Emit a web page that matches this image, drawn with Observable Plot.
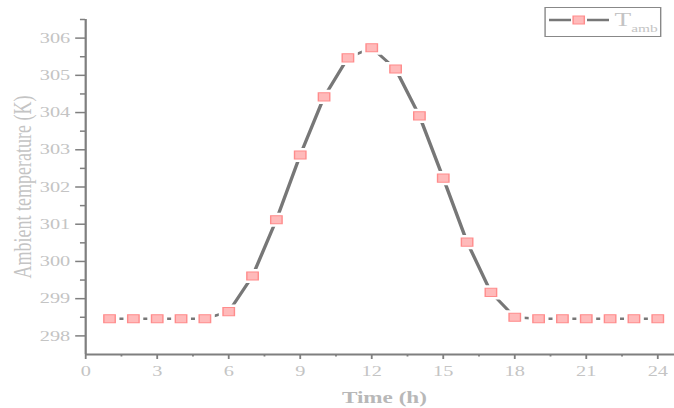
<!DOCTYPE html>
<html><head><meta charset="utf-8">
<script src="https://cdn.jsdelivr.net/npm/d3@7"></script>
<script src="https://cdn.jsdelivr.net/npm/@observablehq/plot@0.6"></script>
<style>body{margin:0;background:#fff}#chart{position:relative;width:674px;height:408px}</style>
</head><body><div id="chart"></div>
<script>
// Data
const hours = [1,2,3,4,5,6,7,8,9,10,11,12,13,14,15,16,17,18,19,20,21,22,23,24];
const tAmb = [298.46,298.46,298.46,298.46,298.46,298.65,299.61,301.12,302.86,304.42,305.47,305.74,305.17,303.91,302.24,300.52,299.17,298.50,298.46,298.46,298.46,298.46,298.46,298.46];
const xTicks = [0,3,6,9,12,15,18,21,24];
const xMinor = [1.5,4.5,7.5,10.5,13.5,16.5,19.5,22.5];
const yTicks = [298,299,300,301,302,303,304,305,306];
const yMinor = [298.5,299.5,300.5,301.5,302.5,303.5,304.5,305.5,306.5];
const xLabel = "Time (h)";
const yLabel = "Ambient temperature (K)";
const seriesName = "T";
const seriesSub = "amb";

const table = hours.map((h, i) => ({h, t: tAmb[i]}));

// The reference picture is horizontally stretched; draw at narrower width and stretch.
const W = 481, H = 408;
const axisGray = "#7f7f7f", textGray = "#c4c4c4";

const plot = Plot.plot({
  width: W, height: H,
  marginLeft: 60.66, marginRight: 0, marginTop: 19, marginBottom: 54,
  style: {fontFamily: "'Liberation Serif', serif", background: "white"},
  x: {domain: [0, 24.71], label: null},
  y: {domain: [297.5, 306.5], label: null},
  marks: [
    Plot.axisY(yTicks, {tickSize: 7, tickPadding: 4, stroke: axisGray, strokeWidth: 1.5, fill: textGray, fontSize: 14.5, label: null}),
    Plot.axisY(yMinor, {tickSize: 3.6, stroke: axisGray, strokeWidth: 1.5, tickFormat: () => "", label: null}),
    Plot.axisX(xTicks, {tickSize: 5, tickPadding: 6.5, stroke: axisGray, strokeWidth: 1.3, fill: textGray, fontSize: 14.5, label: null}),
    Plot.axisX(xMinor, {tickSize: 2.5, stroke: axisGray, strokeWidth: 1.3, tickFormat: () => "", label: null}),
    Plot.ruleX([0], {stroke: axisGray, strokeWidth: 1.6}),
    Plot.ruleY([297.5], {stroke: axisGray, strokeWidth: 2}),
    Plot.text([yLabel], {frameAnchor: "left", textAnchor: "middle", rotate: -90, dx: -45, fontSize: 18, fill: textGray}),
    Plot.text([xLabel], {frameAnchor: "bottom", dx: 3, dy: 48, fontSize: 16.5, fontWeight: "bold", fill: "#b8b8b8"}),
    Plot.line(table, {x: "h", y: "t", stroke: "#777777", strokeWidth: 2.5}),
    Plot.dot(table, {x: "h", y: "t", symbol: "square", r: 4.6, fill: "white", stroke: "white", strokeWidth: 6}),
    Plot.dot(table, {x: "h", y: "t", symbol: "square", r: 4.6, fill: "#ffbaba", stroke: "#ff8c8c", strokeWidth: 1})
  ]
});

plot.setAttribute("width", 674);
plot.setAttribute("preserveAspectRatio", "none");
plot.style.height = "408px";
plot.style.maxWidth = "none";
plot.style.width = "674px";

// Legend (unstretched coordinates)
const svg = d3.select(plot);
const lg = svg.append("g");
lg.append("rect").attr("x", 389).attr("y", 7.5).attr("width", 82.5).attr("height", 29)
  .attr("fill", "white").attr("stroke", "#888").attr("stroke-width", 1);
lg.append("line").attr("x1", 391.8).attr("x2", 407.5).attr("y1", 20).attr("y2", 20).attr("stroke", "#777").attr("stroke-width", 2.5);
lg.append("line").attr("x1", 418.9).attr("x2", 434.6).attr("y1", 20).attr("y2", 20).attr("stroke", "#777").attr("stroke-width", 2.5);
lg.append("rect").attr("x", 413 - 4).attr("y", 20 - 4).attr("width", 8).attr("height", 8)
  .attr("fill", "#ffbaba").attr("stroke", "#ff8c8c").attr("stroke-width", 1);
const t = lg.append("text").attr("x", 438.5).attr("y", 26.5).attr("fill", textGray)
  .attr("text-anchor", "start")
  .attr("font-family", "'Liberation Serif', serif").attr("font-size", 19.5);
t.append("tspan").text(seriesName);
t.append("tspan").attr("font-size", 11).attr("dy", 5.5).text(seriesSub);

document.getElementById("chart").appendChild(plot);
</script>
</body></html>
